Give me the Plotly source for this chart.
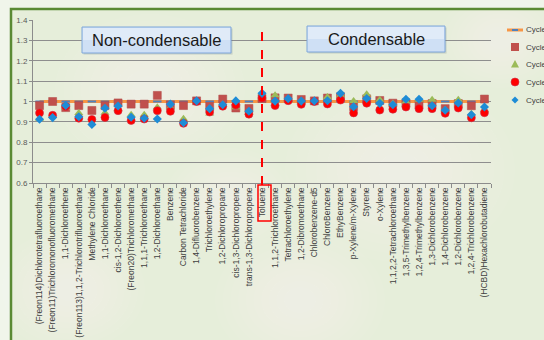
import plotly.graph_objects as go

# ---- data -------------------------------------------------------------
categories = [
    "(Freon114)Dichlorotetrafluoroethane", "(Freon11)Trichloromonofluoromethane",
    "1,1-Dichloroethene", "(Freon113)1,1,2-Trichlorotrifluoroethane",
    "Methylene Chloride", "1,1-Dichloroethane", "cis-1,2-Dichloroethene",
    "(Freon20)Trichloromethane", "1,1,1-Trichloroethane", "1,2-Dichloroethane",
    "Benzene", "Carbon Tetrachloride", "1,4-Difluorobenzene", "Trichloroethylene",
    "1,2-Dichloropropane", "cis-1,3-Dichloropropene", "trans-1,3-Dichloropropene",
    "Toluene", "1,1,2-Trichloroethane", "Tetrachloroethylene", "1,2-Dibromoethane",
    "Chlorobenzene-d5", "ChloroBenzene", "EthyBenzene", "p-Xylene/m-Xylene",
    "Styrene", "o-Xylene", "1,1,2,2-Tetrachloroethane", "1,3,5-Trimethylbenzene",
    "1,2,4-Trimethylbenzene", "1,3-Dichlorobenzene", "1,4-Dichlorobenzene",
    "1,2-Dichlorobenzene", "1,2,4-Trichlorobenzene", "(HCBD)Hexachlorobutadiene",
]

cycle1 = [1.0, 1.0, 1.0, 1.0, 1.0, 1.0, 1.0, 1.0, 1.0, 1.0, 1.0, 1.0,
          1.0, 1.0, 1.0, 1.0, 1.0, 1.0, 1.0, 1.0, 1.0, 1.0, 1.0, 1.0,
          1.0, 1.0, 1.0, 1.0, 1.0, 1.0, 1.0, 1.0, 1.0, 1.0, 1.0]
cycle2 = [0.980, 1.000, 0.970, 0.980, 0.956, 0.980, 0.993, 0.987, 0.987, 1.030,
          0.982, 0.980, 1.003, 0.976, 1.012, 0.968, 0.966, 1.015, 1.018, 1.017,
          1.010, 1.003, 1.017, 1.023, 0.975, 1.013, 1.005, 0.992, 0.993, 0.985,
          0.990, 0.965, 0.990, 0.979, 1.012]
cycle3 = [0.915, 0.930, 0.968, 0.944, 0.910, 0.945, 0.962, 0.935, 0.935, 0.972,
          0.970, 0.915, 1.000, 0.941, 0.985, 0.972, 0.945, 1.020, 1.031, 1.015,
          1.000, 1.000, 1.022, 1.031, 1.003, 1.035, 1.008, 0.990, 1.000, 1.008,
          1.008, 0.960, 1.008, 0.940, 0.960]
cycle4 = [0.944, 0.932, 0.975, 0.918, 0.912, 0.922, 0.955, 0.907, 0.914, 0.955,
          0.952, 0.893, 1.000, 0.948, 0.977, 0.983, 0.938, 1.017, 0.980, 1.004,
          0.986, 1.000, 0.988, 1.007, 0.944, 0.992, 0.958, 0.962, 0.973, 0.965,
          0.965, 0.942, 0.968, 0.920, 0.945]
cycle5 = [0.913, 0.921, 0.980, 0.925, 0.887, 0.967, 0.978, 0.923, 0.918, 0.914,
          0.987, 0.896, 1.003, 0.965, 0.984, 1.003, 0.952, 1.040, 1.002, 1.014,
          1.002, 1.003, 1.004, 1.040, 0.974, 1.015, 0.991, 0.984, 1.011, 1.011,
          0.979, 0.957, 0.993, 0.935, 0.973]

y_ticks = [0.6, 0.7, 0.8, 0.9, 1.0, 1.1, 1.2, 1.3, 1.4]
y_tick_text = ["0.6", "0.7", "0.8", "0.9", "1", "1.1", "1.2", "1.3", "1.4"]

series_names = ["Cycle 1", "Cycle 2", "Cycle 3", "Cycle 4", "Cycle 5"]

# ---- page geometry ---------------------------------------------------
W, H = 544, 340
ML, MR, MT, MB = 33, 53, 20, 157
PW, PH = W - ML - MR, H - MT - MB


def px(x):
    """pixel column -> paper x"""
    return (x - ML) / PW


def py(y):
    """pixel row -> paper y"""
    return (H - MB - y) / PH


n = len(categories)

ORANGE, DASH_BLUE = "#F79646", "#4F81BD"
SQ, TRI, CIRC, DIA = "#C0504D", "#9BBB59", "#FF0000", "#1E8CD6"

styles = [
    dict(mode="lines+markers", line=dict(color=ORANGE, width=3),
         marker=dict(symbol="line-ew", size=6, line=dict(color=DASH_BLUE, width=2))),
    dict(mode="markers", marker=dict(symbol="square", size=8, color=SQ,
                                     line=dict(color="#B04946", width=0.5))),
    dict(mode="markers", marker=dict(symbol="triangle-up", size=8, color=TRI,
                                     line=dict(width=0))),
    dict(mode="markers", marker=dict(symbol="circle", size=8, color=CIRC,
                                     line=dict(color="#C8304A", width=0.6))),
    dict(mode="markers", marker=dict(symbol="diamond", size=7, color=DIA,
                                     line=dict(width=0))),
]

fig = go.Figure()
for name, vals, st in zip(series_names, [cycle1, cycle2, cycle3, cycle4, cycle5], styles):
    fig.add_trace(go.Scatter(x=categories, y=vals, name=name, showlegend=False, **st))

shapes = []

# background: lighter outer page, green panel with dark border, soft light patches
shapes.append(dict(type="rect", xref="paper", yref="paper", layer="below",
                   x0=px(11), x1=px(W + 20), y0=py(9), y1=py(H + 20),
                   fillcolor="#E6EEDA", line=dict(width=0)))
for cx, cy, r in [(150, 90, 95), (400, 170, 115), (300, 300, 85), (70, 290, 75),
                  (500, 40, 60), (230, 200, 65)]:
    for k in range(10):
        rr = r * (1 - k * 0.09)
        shapes.append(dict(type="circle", xref="paper", yref="paper", layer="below",
                           x0=px(cx - rr), x1=px(cx + rr),
                           y0=py(cy + rr * 0.8), y1=py(cy - rr * 0.8),
                           fillcolor="rgba(255,255,255,0.05)", line=dict(width=0)))
shapes.append(dict(type="path", xref="paper", yref="paper", layer="below",
                   path="M {} {} L {} {} L {} {}".format(px(11), py(H + 20), px(11), py(9),
                                                     px(W + 20), py(9)),
                   line=dict(color="#5A8A34", width=2.5)))

# ---- legend (drawn by hand in the right margin) ----------------------
leg_rows = [30, 47, 64, 82, 100]
LX = 515  # symbol centre column


def pts(coords):
    return "M " + " L ".join("{} {}".format(px(a), py(b)) for a, b in coords) + " Z"


r0, r1, r2, r3, r4 = leg_rows
shapes += [
    dict(type="line", xref="paper", yref="paper", x0=px(507), x1=px(523),
         y0=py(r0), y1=py(r0), line=dict(color=ORANGE, width=3)),
    dict(type="line", xref="paper", yref="paper", x0=px(LX - 3), x1=px(LX + 3),
         y0=py(r0), y1=py(r0), line=dict(color=DASH_BLUE, width=2)),
    dict(type="rect", xref="paper", yref="paper", x0=px(LX - 4), x1=px(LX + 4),
         y0=py(r1 + 4), y1=py(r1 - 4), fillcolor=SQ, line=dict(width=0)),
    dict(type="path", xref="paper", yref="paper",
         path=pts([(LX - 4, r2 + 3.5), (LX + 4, r2 + 3.5), (LX, r2 - 4)]),
         fillcolor=TRI, line=dict(width=0)),
    dict(type="circle", xref="paper", yref="paper", x0=px(LX - 4), x1=px(LX + 4),
         y0=py(r3 + 4), y1=py(r3 - 4), fillcolor=CIRC, line=dict(color="#C8304A", width=0.6)),
    dict(type="path", xref="paper", yref="paper",
         path=pts([(LX, r4 - 3.5), (LX + 3.5, r4), (LX, r4 + 3.5), (LX - 3.5, r4)]),
         fillcolor=DIA, line=dict(width=0)),
]
for name, row in zip(series_names, leg_rows):
    fig.add_annotation(x=px(524), y=py(row), xref="paper", yref="paper",
                       text=name, showarrow=False, xanchor="left", yanchor="middle",
                       font=dict(size=8, color="#404040", family="Liberation Sans"))

# section labels
boxes = [("Non-condensable", 82, 231, 27, 53), ("Condensable", 307, 445, 26, 52)]
for text, x0, x1, y0, y1 in boxes:
    shapes.append(dict(type="rect", xref="paper", yref="paper", layer="above",
                       x0=px(x0 + 1.5), x1=px(x1 + 1.5), y0=py(y1 + 1.5), y1=py(y0 + 1.5),
                       fillcolor="rgba(90,110,130,0.25)", line=dict(width=0)))
    shapes.append(dict(type="rect", xref="paper", yref="paper", layer="above",
                       x0=px(x0), x1=px(x1), y0=py(y1), y1=py(y0),
                       fillcolor="#CFE0F5", line=dict(color="#7FA7DA", width=1)))
    shapes.append(dict(type="rect", xref="paper", yref="paper", layer="above",
                       x0=px(x0 + 1), x1=px(x1 - 1), y0=py((y0 + y1) / 2), y1=py(y0 + 1),
                       fillcolor="rgba(255,255,255,0.35)", line=dict(width=0)))
    fig.add_annotation(x=px((x0 + x1) / 2), y=py((y0 + y1) / 2),
                       xref="paper", yref="paper", text=text, showarrow=False,
                       xanchor="center", yanchor="middle",
                       font=dict(size=16.5, color="#1A1A1A", family="Liberation Sans"))

# divider at Toluene and the box around its label
ti = categories.index("Toluene")
tx = (ti + 0.5) / n
shapes.append(dict(type="line", xref="paper", yref="paper", layer="above",
                   x0=tx, x1=tx, y0=py(185), y1=py(27),
                   line=dict(color="#FF0000", width=2, dash="dash")))
shapes.append(dict(type="rect", xref="paper", yref="paper", layer="above",
                   x0=tx - 4 / PW, x1=tx + 9 / PW, y0=py(221), y1=py(185),
                   line=dict(color="#FF0000", width=1.5)))

fig.update_layout(
    width=W, height=H,
    margin=dict(l=ML, r=MR, t=MT, b=MB, autoexpand=False, pad=0),
    paper_bgcolor="#F0F5EA",
    plot_bgcolor="rgba(0,0,0,0)",
    showlegend=False,
    shapes=shapes,
    font=dict(family="Liberation Sans", color="#404040"),
    xaxis=dict(type="category", categoryorder="array", categoryarray=categories,
               range=[-0.5, n - 0.5], tickangle=-90, tickfont=dict(size=8.5, color="#404040"),
               showgrid=False, showline=True, linecolor="#8C8C8C", linewidth=1,
               ticks="outside", ticklen=4, tickcolor="#8C8C8C", tickson="boundaries",
               zeroline=False, fixedrange=True),
    yaxis=dict(range=[0.6, 1.4], tickvals=y_ticks, ticktext=y_tick_text,
               tickfont=dict(size=8, color="#595959"), showgrid=True,
               gridcolor="#8E8E8E", gridwidth=1, showline=True, linecolor="#8C8C8C",
               ticks="outside", ticklen=3, tickcolor="#8C8C8C", zeroline=False),
)

fig.write_html("out.html")
